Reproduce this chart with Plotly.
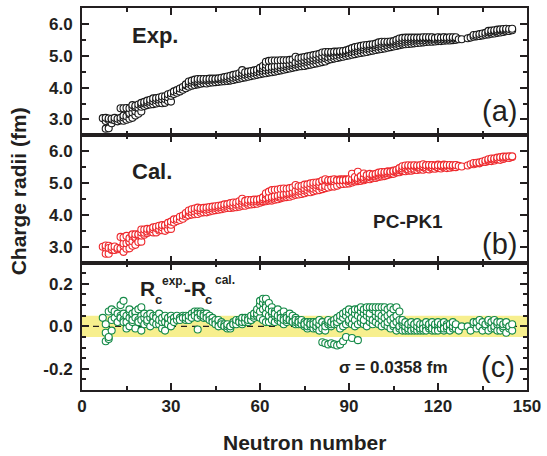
import plotly.graph_objects as go
from plotly.subplots import make_subplots

# ---------------- data ----------------
neutron = [
    7,
    8, 8, 8,
    9, 9, 9,
    10, 10, 10,
    11, 11,
    12, 12,
    13, 13, 13,
    14, 14, 14, 14,
    15, 15, 15,
    16, 16, 16, 16,
    17, 17, 17, 17,
    18, 18, 18, 18,
    19, 19, 19,
    20, 20, 20, 20,
    21, 21, 21,
    22, 22, 22,
    23, 23, 23,
    24, 24, 24,
    25, 25, 25,
    26, 26, 26,
    27, 27, 27,
    28, 28, 28,
    29, 29, 29,
    30, 30, 30,
    31, 31,
    32, 32,
    33, 33,
    34, 34,
    35, 35, 35,
    36, 36, 36,
    37, 37, 37,
    38, 38, 38,
    39, 39, 39, 39,
    40, 40, 40,
    41, 41, 41,
    42, 42, 42,
    43, 43, 43,
    44, 44, 44,
    45, 45, 45,
    46, 46, 46,
    47, 47, 47,
    48, 48, 48,
    49, 49, 49,
    50, 50, 50,
    51, 51, 51,
    52, 52, 52,
    53, 53, 53,
    54, 54, 54, 54,
    55, 55, 55,
    56, 56, 56,
    57, 57, 57,
    58, 58, 58,
    59, 59, 59,
    60, 60, 60, 60,
    61, 61, 61, 61,
    62, 62, 62, 62, 62,
    63, 63, 63, 63,
    64, 64, 64, 64,
    65, 65, 65, 65,
    66, 66, 66, 66,
    67, 67, 67, 67,
    68, 68, 68, 68,
    69, 69, 69, 69,
    70, 70, 70, 70,
    71, 71, 71, 71,
    72, 72, 72, 72,
    73, 73, 73, 73,
    74, 74, 74, 74,
    75, 75, 75, 75,
    76, 76, 76, 76,
    77, 77, 77, 77,
    78, 78, 78, 78,
    79, 79, 79, 79,
    80, 80, 80, 80,
    81, 81, 81, 81,
    82, 82, 82, 82,
    83, 83, 83, 83,
    84, 84, 84, 84,
    85, 85, 85, 85,
    86, 86, 86, 86,
    87, 87, 87, 87,
    88, 88, 88, 88,
    89, 89, 89, 89,
    90, 90, 90, 90,
    91, 91, 91, 91,
    92, 92, 92, 92,
    93, 93, 93, 93,
    94, 94, 94, 94,
    95, 95, 95, 95,
    96, 96, 96, 96,
    97, 97, 97, 97,
    98, 98, 98, 98,
    99, 99, 99, 99,
    100, 100, 100, 100,
    101, 101, 101, 101,
    102, 102, 102, 102,
    103, 103, 103, 103,
    104, 104, 104, 104,
    105, 105, 105, 105,
    106, 106, 106, 106,
    107, 107, 107, 107,
    108, 108, 108, 108,
    109, 109, 109, 109,
    110, 110, 110, 110,
    111, 111, 111, 111,
    112, 112, 112, 112,
    113, 113, 113, 113,
    114, 114, 114, 114,
    115, 115, 115, 115,
    116, 116, 116, 116,
    117, 117, 117, 117,
    118, 118, 118, 118,
    119, 119, 119,
    120, 120, 120, 120,
    121, 121, 121,
    122, 122, 122, 122,
    123, 123, 123,
    124, 124, 124,
    125, 125, 125,
    126, 126, 126,
    127,
    128,
    130,
    131,
    132, 132,
    133, 133,
    134, 134,
    135, 135,
    136, 136,
    137, 137, 137,
    138, 138, 138,
    139, 139, 139,
    140, 140, 140,
    141, 141, 141,
    142, 142, 142,
    143, 143, 143,
    144, 144,
    145, 145,
]

# experimental charge radii (fm)
r_exp = [
    3.04,
    2.71, 2.95, 3.05,
    2.72, 2.98, 3.03,
    2.88, 3.00, 3.02,
    2.97, 3.05,
    2.94, 3.02,
    2.97, 3.05, 3.35,
    2.96, 3.06, 3.12, 3.35,
    2.99, 3.10, 3.36,
    3.02, 3.16, 3.20, 3.35,
    3.05, 3.22, 3.37, 3.45,
    3.12, 3.26, 3.38, 3.43,
    3.18, 3.37, 3.47,
    3.25, 3.40, 3.48, 3.52,
    3.42, 3.50, 3.55,
    3.45, 3.53, 3.59,
    3.47, 3.55, 3.62,
    3.48, 3.57, 3.66,
    3.50, 3.60, 3.67,
    3.52, 3.62, 3.69,
    3.51, 3.63, 3.72,
    3.52, 3.64, 3.73,
    3.58, 3.70, 3.79,
    3.56, 3.74, 3.82,
    3.80, 3.88,
    3.84, 3.92,
    3.88, 3.97,
    3.93, 4.02,
    3.98, 4.07, 4.10,
    4.03, 4.12, 4.19,
    4.06, 4.15, 4.22,
    4.08, 4.18, 4.25,
    4.10, 4.15, 4.20, 4.27,
    4.12, 4.21, 4.27,
    4.14, 4.22, 4.27,
    4.13, 4.22, 4.27,
    4.15, 4.23, 4.28,
    4.16, 4.24, 4.28,
    4.17, 4.25, 4.28,
    4.18, 4.26, 4.29,
    4.19, 4.26, 4.31,
    4.20, 4.27, 4.33,
    4.21, 4.28, 4.35,
    4.22, 4.29, 4.37,
    4.24, 4.31, 4.40,
    4.26, 4.33, 4.42,
    4.28, 4.35, 4.45,
    4.30, 4.38, 4.46, 4.55,
    4.32, 4.40, 4.48,
    4.34, 4.42, 4.50,
    4.36, 4.44, 4.52,
    4.38, 4.46, 4.54,
    4.40, 4.48, 4.56,
    4.42, 4.50, 4.58, 4.62,
    4.44, 4.52, 4.60, 4.68,
    4.45, 4.54, 4.62, 4.72, 4.81,
    4.47, 4.55, 4.63, 4.84,
    4.48, 4.57, 4.65, 4.85,
    4.50, 4.58, 4.66, 4.85,
    4.52, 4.60, 4.68, 4.85,
    4.54, 4.62, 4.70, 4.86,
    4.56, 4.64, 4.71, 4.86,
    4.58, 4.66, 4.73, 4.86,
    4.60, 4.68, 4.75, 4.87,
    4.62, 4.70, 4.77, 4.88,
    4.64, 4.72, 4.79, 4.97,
    4.66, 4.74, 4.82, 4.92,
    4.67, 4.76, 4.84, 4.94,
    4.68, 4.78, 4.86, 4.96,
    4.70, 4.80, 4.88, 4.98,
    4.72, 4.82, 4.90, 5.00,
    4.74, 4.84, 4.92, 5.02,
    4.76, 4.86, 4.94, 5.04,
    4.78, 4.88, 4.96, 5.06,
    4.80, 4.90, 4.98, 5.10,
    4.82, 4.92, 5.00, 5.12,
    4.87, 4.95, 5.06, 5.12,
    4.89, 4.97, 5.08, 5.12,
    4.91, 4.99, 5.09, 5.13,
    4.93, 5.01, 5.10, 5.13,
    4.95, 5.03, 5.11, 5.14,
    4.97, 5.05, 5.12, 5.15,
    4.99, 5.07, 5.13, 5.17,
    5.01, 5.09, 5.16, 5.20,
    5.03, 5.11, 5.19, 5.24,
    5.05, 5.13, 5.21, 5.27,
    5.07, 5.15, 5.23, 5.29,
    5.09, 5.17, 5.25, 5.31,
    5.10, 5.19, 5.26, 5.33,
    5.12, 5.21, 5.28, 5.34,
    5.14, 5.22, 5.30, 5.35,
    5.16, 5.24, 5.32, 5.36,
    5.18, 5.26, 5.33, 5.38,
    5.20, 5.28, 5.35, 5.42,
    5.21, 5.29, 5.37, 5.44,
    5.23, 5.31, 5.39, 5.44,
    5.25, 5.33, 5.41, 5.44,
    5.27, 5.35, 5.42, 5.45,
    5.29, 5.37, 5.43, 5.46,
    5.31, 5.38, 5.45, 5.50,
    5.33, 5.40, 5.47, 5.54,
    5.35, 5.41, 5.48, 5.56,
    5.36, 5.43, 5.50, 5.57,
    5.37, 5.44, 5.51, 5.57,
    5.38, 5.45, 5.52, 5.57,
    5.39, 5.46, 5.53, 5.57,
    5.40, 5.47, 5.53, 5.57,
    5.41, 5.48, 5.54, 5.57,
    5.42, 5.48, 5.54, 5.58,
    5.43, 5.49, 5.55, 5.58,
    5.44, 5.50, 5.55, 5.58,
    5.44, 5.50, 5.56, 5.58,
    5.45, 5.51, 5.56,
    5.46, 5.51, 5.56, 5.58,
    5.46, 5.52, 5.57,
    5.47, 5.52, 5.57, 5.58,
    5.48, 5.53, 5.57,
    5.48, 5.53, 5.58,
    5.49, 5.54, 5.58,
    5.50, 5.55, 5.58,
    5.52,
    5.52,
    5.55,
    5.57,
    5.60, 5.65,
    5.61, 5.66,
    5.62, 5.68,
    5.64, 5.70,
    5.66, 5.72,
    5.67, 5.73, 5.78,
    5.69, 5.74, 5.79,
    5.70, 5.76, 5.80,
    5.72, 5.77, 5.82,
    5.73, 5.79, 5.83,
    5.75, 5.80, 5.84,
    5.77, 5.82, 5.85,
    5.78, 5.84,
    5.80, 5.85,
]

# R_exp - R_cal (fm)
resid = [
    0.04,
    -0.07, -0.03, 0.01,
    -0.06, -0.05, 0.07,
    -0.02, 0.08, 0.03,
    0.07, 0.04,
    0.02, 0.06,
    0.05, 0.10, 0.04,
    0.12, 0.03, 0.02, 0.06,
    0.05, -0.01, 0.02,
    0.07, 0.00, 0.04, 0.08,
    0.02, 0.05, 0.03, 0.06,
    0.06, -0.01, 0.07, 0.04,
    0.03, 0.02, 0.08,
    0.09, 0.05, 0.03, -0.02,
    0.04, 0.06, 0.01,
    0.02, 0.05, 0.03,
    0.00, 0.04, 0.06,
    0.03, 0.02, 0.05,
    0.05, 0.01, 0.04,
    0.01, 0.06, 0.03,
    -0.01, 0.02, 0.04,
    0.02, -0.02, 0.05,
    0.03, 0.01, 0.04,
    0.00, 0.05, 0.03,
    0.04, 0.02,
    0.03, 0.05,
    0.04, 0.03,
    0.05, 0.04,
    0.03, 0.05, 0.04,
    0.04, 0.03, 0.05,
    0.05, 0.06, 0.04,
    0.06, 0.07, 0.05,
    0.07, -0.015, 0.06, 0.04,
    0.05, 0.07, 0.06,
    0.06, 0.04, 0.05,
    0.05, 0.06, 0.04,
    0.04, 0.05, 0.03,
    0.03, 0.04, 0.02,
    0.02, 0.03, 0.01,
    0.02, 0.03, 0.00,
    0.01, 0.02, 0.01,
    0.00, 0.01, 0.00,
    -0.01, 0.00, 0.01,
    0.00, -0.01, 0.00,
    0.01, 0.02, 0.01,
    0.02, 0.01, 0.03,
    0.02, 0.03, 0.02,
    0.01, 0.03, 0.02, 0.04,
    0.03, 0.02, 0.04,
    0.02, 0.04, 0.03,
    0.03, 0.03, 0.05,
    0.04, 0.05, 0.06,
    0.05, 0.06, 0.08,
    0.04, 0.07, 0.10, 0.12,
    0.03, 0.08, 0.11, 0.13,
    0.02, 0.06, 0.10, 0.09, 0.13,
    0.02, 0.05, 0.08, 0.11,
    0.03, 0.06, 0.09, 0.07,
    0.02, 0.05, 0.07, 0.06,
    0.03, 0.04, 0.08, 0.05,
    0.02, 0.05, 0.06, 0.04,
    0.01, 0.04, 0.07, 0.03,
    0.02, 0.03, 0.05, 0.04,
    0.03, 0.04, 0.06, 0.03,
    0.02, 0.03, 0.05, 0.02,
    0.01, 0.02, 0.04, 0.03,
    0.02, 0.01, 0.03, 0.02,
    0.01, 0.02, 0.01, 0.03,
    0.00, 0.01, 0.02, 0.01,
    -0.01, 0.02, 0.00, 0.02,
    0.01, 0.00, 0.02, 0.01,
    0.00, 0.02, -0.01, 0.01,
    -0.01, 0.01, 0.00, 0.02,
    0.00, -0.02, 0.01, 0.03,
    -0.01, 0.02, -0.075, 0.02,
    -0.02, 0.01, -0.08, 0.00,
    0.01, -0.085, 0.02, 0.03,
    0.00, -0.08, 0.01, 0.02,
    0.02, -0.085, 0.03, 0.01,
    0.01, -0.09, 0.02, 0.04,
    -0.01, -0.085, 0.03, 0.05,
    0.00, -0.07, 0.04, 0.06,
    0.01, -0.05, 0.05, 0.07,
    0.02, 0.03, 0.06, 0.08,
    0.01, 0.04, 0.07, -0.055,
    0.00, 0.03, 0.06, 0.08,
    0.01, 0.05, 0.08, -0.065,
    0.02, 0.04, 0.07, 0.09,
    0.01, 0.06, 0.08, 0.03,
    0.00, 0.05, 0.07, 0.09,
    0.02, 0.04, 0.09, 0.06,
    0.01, 0.03, 0.08, 0.09,
    0.02, 0.05, 0.07, 0.09,
    0.01, 0.04, 0.06, 0.09,
    0.00, 0.03, 0.05, 0.09,
    0.01, 0.04, 0.07, 0.09,
    0.00, 0.02, 0.05, 0.08,
    -0.01, 0.03, 0.06, 0.09,
    0.00, 0.01, 0.04, 0.08,
    -0.02, 0.02, 0.05, 0.09,
    -0.01, 0.00, 0.03, 0.07,
    -0.02, 0.01, 0.02, 0.03,
    -0.01, -0.02, 0.00, 0.02,
    -0.02, 0.01, -0.01, 0.01,
    -0.01, 0.00, -0.02, 0.02,
    -0.02, 0.01, -0.01, 0.01,
    -0.01, -0.02, 0.00, 0.02,
    -0.02, 0.00, -0.01, 0.01,
    0.00, -0.02, 0.01, -0.01,
    -0.01, 0.00, -0.02, 0.02,
    0.01, -0.01, 0.00, 0.01,
    -0.02, 0.00, -0.01, 0.02,
    0.00, -0.02, 0.01,
    -0.01, 0.01, -0.02, 0.02,
    0.00, -0.01, 0.01,
    -0.02, 0.00, -0.01, 0.02,
    0.01, -0.01, 0.00,
    0.00, -0.02, 0.01,
    -0.01, 0.00, 0.02,
    0.00, -0.01, 0.01,
    -0.02,
    0.00,
    0.00,
    -0.02,
    0.01, 0.02,
    -0.01, 0.02,
    0.00, 0.03,
    -0.02, 0.02,
    0.00, 0.01,
    -0.02, 0.02, 0.03,
    0.00, -0.01, 0.02,
    -0.01, 0.00, 0.03,
    -0.02, 0.01, 0.02,
    0.00, -0.02, 0.02,
    -0.01, 0.00, 0.01,
    -0.03, 0.01, 0.02,
    -0.01, 0.00,
    -0.02, 0.01,
]

assert len(neutron) == len(r_exp) == len(resid), (len(neutron), len(r_exp), len(resid))

# calculated (PC-PK1) radii follow from R_cal = R_exp - (R_exp - R_cal)
r_cal = [round(e - d, 4) for e, d in zip(r_exp, resid)]

band_half_width = 0.05
sigma_text = "σ = 0.0358 fm"

# ---------------- figure ----------------
INK = "#231f20"
FONT = "Liberation Sans, Arial, Helvetica, sans-serif"
W, H = 547, 456
ML, MR, MT, MB = 82, 18, 6, 66
PW, PH = W - ML - MR, H - MT - MB

def paper(xp, yp):
    return (xp - ML) / PW, (H - MB - yp) / PH

fig = make_subplots(rows=3, cols=1, shared_xaxes=True, vertical_spacing=0)

marker_common = dict(symbol="circle", size=7, color="white")
fig.add_trace(go.Scatter(x=neutron, y=r_exp, mode="markers",
                         marker=dict(**marker_common, line=dict(color="#1a1a1a", width=1.1)),
                         showlegend=False, hoverinfo="skip"), row=1, col=1)
fig.add_trace(go.Scatter(x=neutron, y=r_cal, mode="markers",
                         marker=dict(**marker_common, line=dict(color="#ee2a2e", width=1.1)),
                         showlegend=False, hoverinfo="skip"), row=2, col=1)
fig.add_trace(go.Scatter(x=neutron, y=resid, mode="markers",
                         marker=dict(**marker_common, line=dict(color="#168a48", width=1.1)),
                         showlegend=False, hoverinfo="skip"), row=3, col=1)

# yellow band and dashed zero line in panel (c)
fig.add_shape(type="rect", xref="x3 domain", yref="y3", x0=0, x1=1,
              y0=-band_half_width, y1=band_half_width,
              fillcolor="#f7ef8e", line=dict(width=0), layer="below")
fig.add_shape(type="line", xref="x3 domain", yref="y3", x0=0, x1=1, y0=0, y1=0,
              line=dict(color=INK, width=1.3, dash="6px,5px"), layer="below")

tickfont = dict(family=FONT, size=17, color=INK, weight="bold")
axis_common = dict(showline=True, linewidth=2, linecolor=INK, mirror="allticks",
                   ticks="inside", ticklen=7, tickwidth=1.6, tickcolor=INK,
                   showgrid=False, zeroline=False, tickfont=tickfont)

for r in (1, 2, 3):
    fig.update_xaxes(range=[0, 150], tick0=0, dtick=30,
                     minor=dict(dtick=15, ticks="inside", ticklen=4, tickwidth=1.6, tickcolor=INK),
                     **axis_common, row=r, col=1)
fig.update_xaxes(showticklabels=True, row=3, col=1)

for r in (1, 2):
    fig.update_yaxes(range=[2.5, 6.5], tick0=0, dtick=1, tickformat=".1f",
                     minor=dict(dtick=0.5, ticks="inside", ticklen=4, tickwidth=1.6, tickcolor=INK),
                     ticklabelstandoff=4, **axis_common, row=r, col=1)
fig.update_yaxes(range=[-0.3, 0.3], tickvals=[-0.2, 0.0, 0.2], ticktext=["-0.2", "0.0", "0.2"],
                 minor=dict(dtick=0.05, tick0=0, ticks="inside", ticklen=4, tickwidth=1.6, tickcolor=INK),
                 ticklabelstandoff=4, **axis_common, row=3, col=1)

annotations = []

def add_text(text, xp, yp, size, bold=True, xanchor="left"):
    x, y = paper(xp, yp)
    annotations.append(dict(text=text, x=x, y=y, xref="paper", yref="paper",
                            xanchor=xanchor, yanchor="middle", showarrow=False,
                            borderpad=0,
                            font=dict(family=FONT, size=size, color=INK,
                                      weight="bold" if bold else "normal")))

add_text("Exp.", 131, 34, 22)
add_text("Cal.", 131, 170, 22)
add_text("PC-PK1", 409, 221, 19, xanchor="center")
add_text("(a)", 501, 110, 29, bold=False, xanchor="center")
add_text("(b)", 501, 243, 29, bold=False, xanchor="center")
add_text("(c)", 500, 367, 29, bold=False, xanchor="center")
add_text(sigma_text, 339, 367, 17)
# R_c^exp. - R_c^cal.
add_text("R", 139, 288, 21)
add_text("c", 154, 299, 13)
add_text("exp.", 161, 280, 12)
add_text("-R", 183, 288, 21)
add_text("c", 205, 299, 13)
add_text("cal.", 215, 279, 12)

# axis titles
x, y = paper(ML + PW / 2, 443)
annotations.append(dict(text="Neutron number", x=x, y=y, xref="paper", yref="paper",
                        xanchor="center", yanchor="middle", showarrow=False,
                        font=dict(family=FONT, size=21, color=INK, weight="bold")))
x, y = paper(18, 190)
annotations.append(dict(text="Charge radii (fm)", x=x, y=y, xref="paper", yref="paper",
                        xanchor="center", yanchor="middle", showarrow=False, textangle=-90,
                        font=dict(family=FONT, size=21, color=INK, weight="bold")))

fig.update_layout(width=W, height=H, margin=dict(l=ML, r=MR, t=MT, b=MB),
                  paper_bgcolor="white", plot_bgcolor="white",
                  annotations=annotations, showlegend=False)

fig.write_html("out.html")
